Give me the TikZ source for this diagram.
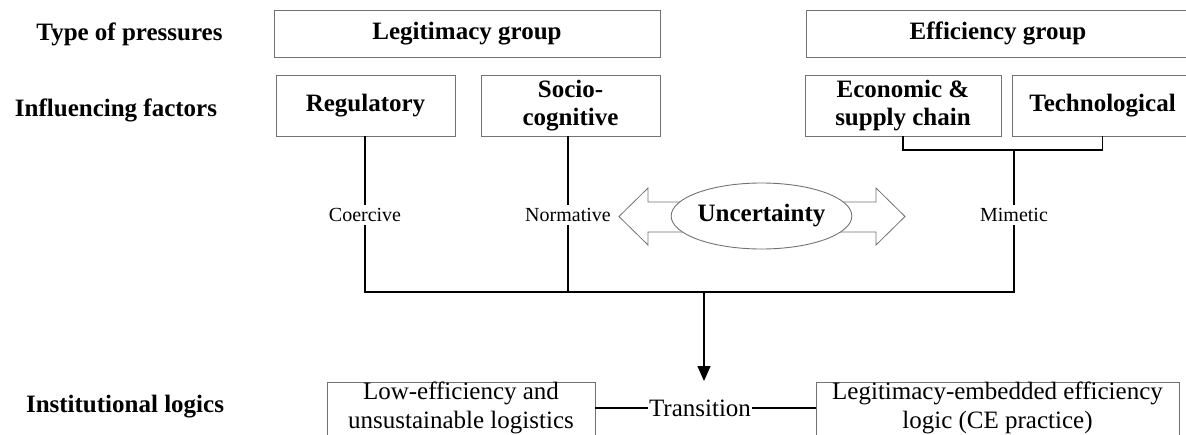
\documentclass[tikz,border=0pt]{standalone}
\usepackage{fontspec}
\setmainfont{Liberation Serif}
\usetikzlibrary{shapes.geometric,arrows.meta}
\tikzset{
 box/.style={draw=black!55, line width=0.9pt, inner sep=0pt, align=center, font=\bfseries\fontsize{25}{28}\selectfont},
 plainbox/.style={draw=black!55, line width=0.9pt, inner sep=0pt},
 rowlabel/.style={font=\bfseries\fontsize{25}{29}\selectfont, inner sep=0pt},
 small/.style={font=\fontsize{20}{24}\selectfont, inner sep=3pt},
 big/.style={font=\fontsize{25}{29}\selectfont, align=center, inner sep=0pt},
 conn/.style={line width=1.6pt, draw=black},
 blockarrow/.style={draw=black!55, line width=0.8pt, fill=white, line join=miter}
}
\begin{document}
\begin{tikzpicture}[x=1pt,y=-1pt]
\clip (0,0) rectangle (1186,434);
\useasboundingbox (0,0) rectangle (1186,434);

% row labels
\node[rowlabel] (tp) at (129.5,34) {Type of pressures};
\node[rowlabel] (if) at (116,110) {Influencing factors};
\node[rowlabel] (il) at (125,407) {Institutional logics};

% groups
\node[box, minimum width=386pt, minimum height=47pt] (legit) at (467,33.5) {Legitimacy group};
\node[box, minimum width=384pt, minimum height=47pt] (eff) at (998,33.5) {Efficiency group};

% factors
\node[box, minimum width=179pt, minimum height=61pt] (reg) at (365.5,105.5) {Regulatory};
\node[box, minimum width=179pt, minimum height=61pt] (soc) at (570.5,105.5) {Socio-\\cognitive};
\node[box, minimum width=196pt, minimum height=61pt] (eco) at (903,105.5) {Economic \&\\supply chain};
\node[box, minimum width=180pt, minimum height=61pt] (tech) at (1102.5,105.5) {Technological};

% pressure labels
\node[small] (coe) at (365,215) {Coercive};
\node[small] (nor) at (568,215) {Normative};
\node[small] (mim) at (1014,215) {Mimetic};

% uncertainty with block arrows
\draw[blockarrow] (700,202) -- (648,202) -- (648,188) -- (619,216.5) -- (648,245) -- (648,232) -- (700,232) -- cycle;
\draw[blockarrow] (822,202) -- (876,202) -- (876,188) -- (905,216.5) -- (876,245) -- (876,232) -- (822,232) -- cycle;
\node[ellipse, draw=black!55, line width=0.9pt, fill=white, minimum width=178pt, minimum height=66pt, inner sep=0pt, font=\bfseries\fontsize{25}{29}\selectfont] (unc) at (761.5,216) {Uncertainty};

% junctions
\coordinate (jl) at (365,292);
\coordinate (jr) at (1014,292);
\coordinate (jc) at (704,292);
\coordinate (tip) at (704,381);
\coordinate (bl) at (903,150);

% connectors
\draw[conn] (reg.south -| coe) -- (coe.north);
\draw[conn] (coe.south) -- (jl) -- (jr) -- (mim.south);
\draw[conn] (soc.south -| nor) -- (nor.north);
\draw[conn] (nor.south) -- (nor.south |- jl);
\draw[conn] (eco.south) -- (eco.south |- bl) -- (tech.south |- bl) -- (tech.south);
\draw[conn] (mim.north) -- (mim.north |- bl);
\draw[conn, -{Triangle[width=13pt,length=15pt]}] (jc) -- (tip);

% institutional logics
\node[plainbox, minimum width=268pt, minimum height=100pt, anchor=north] (low) at (461,382) {};
\node[big] (lowt) at (461,407.5) {Low-efficiency and\\unsustainable logistics};
\node[plainbox, minimum width=363pt, minimum height=100pt, anchor=north] (leg) at (997.5,382) {};
\node[big] (legt) at (997.5,407.5) {Legitimacy-embedded efficiency\\logic (CE practice)};
\node[big, inner sep=1pt] (tr) at (700,408) {Transition};
\draw[conn] (low.east |- tr) -- (tr.west);
\draw[conn] (tr.east) -- (leg.west |- tr);
\end{tikzpicture}
\end{document}
